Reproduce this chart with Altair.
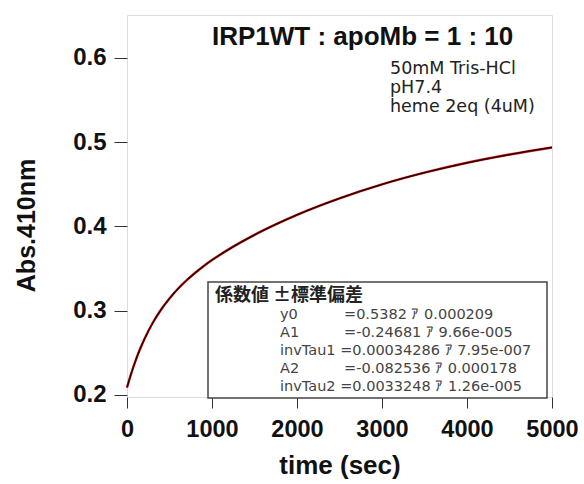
import altair as alt
import pandas as pd

# Time axis (sec) and absorbance at 410 nm
time_sec = [0, 50, 100, 150, 200, 300, 400, 500, 600, 700, 800, 900, 1000,
            1250, 1500, 1750, 2000, 2500, 3000, 3500, 4000, 4500, 5000]
abs410 = [0.2089, 0.2257, 0.2405, 0.2536, 0.2653, 0.2851, 0.3012, 0.3146,
          0.3261, 0.3360, 0.3448, 0.3528, 0.3601, 0.3761, 0.3901, 0.4025,
          0.4138, 0.4334, 0.4500, 0.4639, 0.4756, 0.4854, 0.4938]

x_ticks = [0, 1000, 2000, 3000, 4000, 5000]
y_ticks = [0.2, 0.3, 0.4, 0.5, 0.6]

title_text = "IRP1WT : apoMb = 1 : 10"
note_lines = ["50mM Tris-HCl", "pH7.4", "heme 2eq (4uM)"]
coef_header = "係数値 ±標準偏差"
coef_names = ["y0", "A1", "invTau1", "A2", "invTau2"]
coef_values = ["=0.5382 ｱ 0.000209", "=-0.24681 ｱ 9.66e-005",
               "=0.00034286 ｱ 7.95e-007", "=-0.082536 ｱ 0.000178",
               "=0.0033248 ｱ 1.26e-005"]

df = pd.DataFrame({"t": time_sec, "a": abs410})

FONT = "Liberation Sans"
SFONT = "DejaVu Sans"
JFONT = "Noto Sans CJK JP"

xs = alt.Scale(domain=[0, 5000], nice=False)
ys = alt.Scale(domain=[0.1976, 0.651], nice=False, zero=False)

base = alt.Chart(df)
x_enc = alt.X("t:Q", scale=xs, axis=alt.Axis(
    values=x_ticks, title="time (sec)", grid=False, domain=False,
    tickSize=11, tickColor="#333", tickWidth=1, labelFont=FONT,
    labelFontSize=23.5, labelFontWeight="bold", labelColor="#111",
    labelPadding=9, labelFlush=False, titleFont=FONT, titleFontSize=26,
    titleFontWeight="bold", titleColor="#111", titleY=76,
    titleBaseline="alphabetic", format="d"))
y_enc = alt.Y("a:Q", scale=ys, axis=alt.Axis(
    values=y_ticks, title="Abs.410nm", grid=False, domain=False,
    tickSize=13, tickColor="#333", tickWidth=1, labelFont=FONT,
    labelFontSize=24, labelFontWeight="bold", labelColor="#111",
    labelPadding=8, labelFlush=False, titleFont=FONT, titleFontSize=25,
    titleFontWeight="bold", titleColor="#111", titleX=-101, titleY=210,
    titleAngle=-90, titleBaseline="middle", titleAlign="center",
    format=".1f"))

data_line = base.mark_line(color="#d01010", strokeWidth=2.4,
                           interpolate="monotone").encode(x=x_enc, y=y_enc)
fit_line = base.mark_line(color="#1a0000", strokeWidth=1.3,
                          interpolate="monotone").encode(x="t:Q", y="a:Q")


def txt(s, x, y, size, weight="normal", font=FONT, color="#222",
        align="left", baseline="alphabetic"):
    return alt.Chart(pd.DataFrame({"s": [s]})).mark_text(
        font=font, fontSize=size, fontWeight=weight, color=color,
        align=align, baseline=baseline).encode(
        text="s:N", x=alt.value(x), y=alt.value(y))


layers = [data_line, fit_line]
layers.append(txt(title_text, 85, 30, 26, weight="bold", color="#111"))
for i, line in enumerate(note_lines):
    layers.append(txt(line, 263, 59 + i * 19, 17.5, font=SFONT, color="#222"))

box = alt.Chart(pd.DataFrame({"s": [1]})).mark_rect(
    fill="white", stroke="#444", strokeWidth=1.5).encode(
    x=alt.value(81), x2=alt.value(420), y=alt.value(267), y2=alt.value(383))
layers.append(box)
layers.append(txt(coef_header, 88, 281, 18, weight="bold", font=JFONT,
                  color="#222", baseline="middle"))
for i, (n, v) in enumerate(zip(coef_names, coef_values)):
    yy = 300 + i * 18
    if n.startswith("inv"):
        layers.append(txt(n + " " + v, 153, yy, 14.5, font=SFONT,
                          color="#444", baseline="middle"))
    else:
        layers.append(txt(n, 153, yy, 14.5, font=SFONT, color="#444",
                          baseline="middle"))
        layers.append(txt(v, 217, yy, 14.5, font=SFONT, color="#444",
                          baseline="middle"))

chart = alt.layer(*layers).properties(
    width=425, height=382,
    autosize=alt.AutoSizeParams(type="none"),
    padding={"left": 127, "top": 15, "right": 32, "bottom": 87},
).configure_view(stroke="#333", strokeWidth=1.5).configure(background="white")

chart.save("out.html", embed_options={"renderer": "svg", "actions": False})
